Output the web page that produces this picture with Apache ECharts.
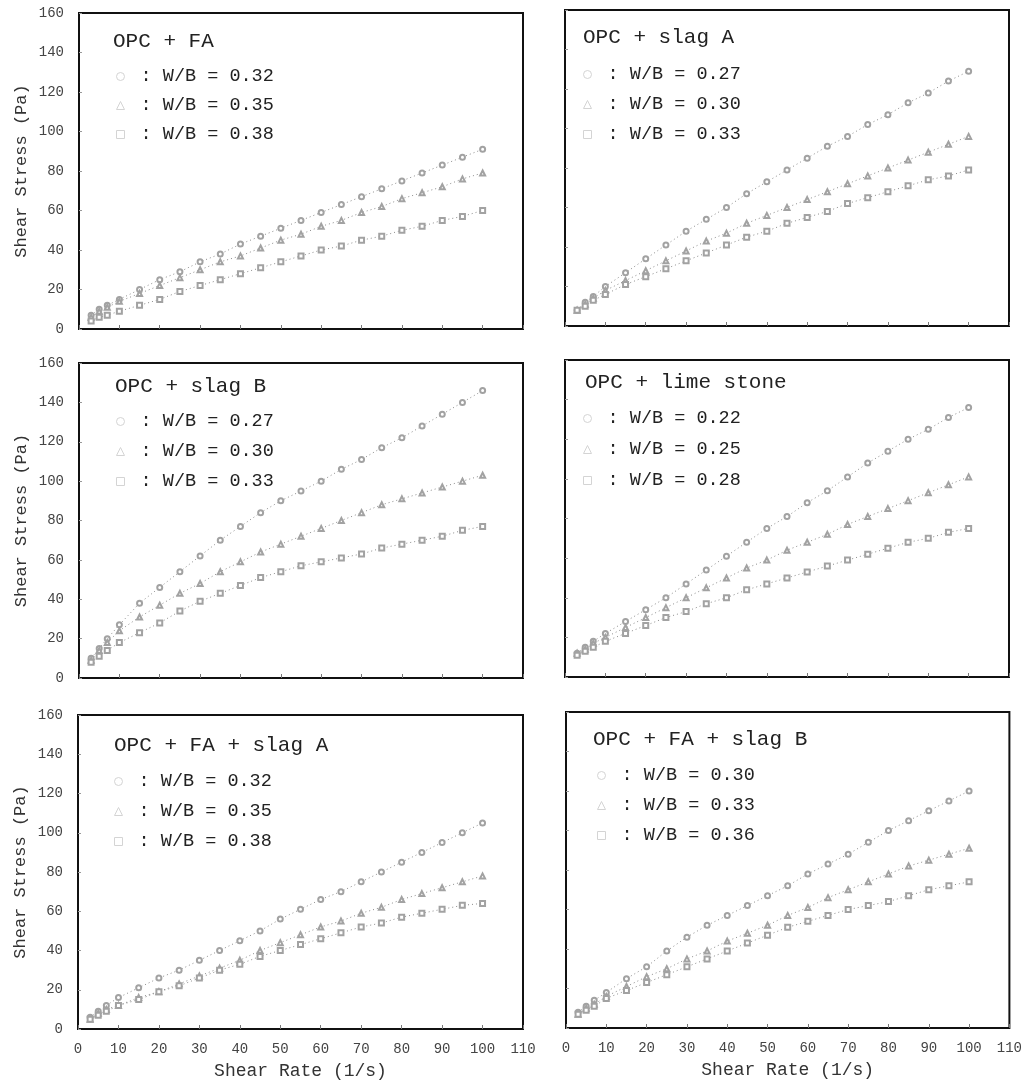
<!DOCTYPE html>
<html>
<head>
<meta charset="utf-8">
<script src="https://cdn.jsdelivr.net/npm/echarts@6/dist/echarts.min.js"></script>
<style>
html,body{margin:0;padding:0;background:#fff;}
#chart{width:1025px;height:1082px;}
</style>
</head>
<body>
<div id="chart"></div>
<script>
// ---- data ----
const shearRate = [3,5,7,10,15,20,25,30,35,40,45,50,55,60,65,70,75,80,85,90,95,100];

const panelTitles = ['OPC + FA','OPC + slag A','OPC + slag B','OPC + lime stone','OPC + FA + slag A','OPC + FA + slag B'];

const wbFA   = ['0.32','0.35','0.38'];
const fa_032 = [7,10,12,15,20,25,29,34,38,43,47,51,55,59,63,67,71,75,79,83,87,91];
const fa_035 = [6,9,11,14,18,22,26,30,34,37,41,45,48,52,55,59,62,66,69,72,76,79];
const fa_038 = [4,6,7,9,12,15,19,22,25,28,31,34,37,40,42,45,47,50,52,55,57,60];

const wbSA   = ['0.27','0.30','0.33'];
const sa_027 = [8,12,15,20,27,34,41,48,54,60,67,73,79,85,91,96,102,107,113,118,124,129];
const sa_030 = [8,11,14,18,23,28,33,38,43,47,52,56,60,64,68,72,76,80,84,88,92,96];
const sa_033 = [8,10,13,16,21,25,29,33,37,41,45,48,52,55,58,62,65,68,71,74,76,79];

const wbSB   = ['0.27','0.30','0.33'];
const sb_027 = [10,15,20,27,38,46,54,62,70,77,84,90,95,100,106,111,117,122,128,134,140,146];
const sb_030 = [9,14,18,24,31,37,43,48,54,59,64,68,72,76,80,84,88,91,94,97,100,103];
const sb_033 = [8,11,14,18,23,28,34,39,43,47,51,54,57,59,61,63,66,68,70,72,75,77];

const wbLS   = ['0.22','0.25','0.28'];
const ls_022 = [12,15,18,22,28,34,40,47,54,61,68,75,81,88,94,101,108,114,120,125,131,136];
const ls_025 = [12,14,17,20,25,30,35,40,45,50,55,59,64,68,72,77,81,85,89,93,97,101];
const ls_028 = [11,13,15,18,22,26,30,33,37,40,44,47,50,53,56,59,62,65,68,70,73,75];

const wbFSA   = ['0.32','0.35','0.38'];
const fsa_032 = [6,9,12,16,21,26,30,35,40,45,50,56,61,66,70,75,80,85,90,95,100,105];
const fsa_035 = [5,8,10,12,16,19,23,27,31,35,40,44,48,52,55,59,62,66,69,72,75,78];
const fsa_038 = [5,7,9,12,15,19,22,26,30,33,37,40,43,46,49,52,54,57,59,61,63,64];

const wbFSB   = ['0.30','0.33','0.36'];
const fsb_030 = [8,11,14,18,25,31,39,46,52,57,62,67,72,78,83,88,94,100,105,110,115,120];
const fsb_033 = [7,10,12,16,21,26,30,35,39,44,48,52,57,61,66,70,74,78,82,85,88,91];
const fsb_036 = [7,9,11,15,19,23,27,31,35,39,43,47,51,54,57,60,62,64,67,70,72,74];

const xTicksMin = 0, xTicksMax = 110, xTickStep = 10;
const yTicksMin = 0, yTicksMax = 160, yTickStep = 20;
const xAxisTitle = 'Shear Rate (1/s)';
const yAxisTitle = 'Shear Stress (Pa)';

// ---- layout ----
const panelData = [
  {wb: wbFA,  vals: [fa_032, fa_035, fa_038]},
  {wb: wbSA,  vals: [sa_027, sa_030, sa_033]},
  {wb: wbSB,  vals: [sb_027, sb_030, sb_033]},
  {wb: wbLS,  vals: [ls_022, ls_025, ls_028]},
  {wb: wbFSA, vals: [fsa_032, fsa_035, fsa_038]},
  {wb: wbFSB, vals: [fsb_030, fsb_033, fsb_036]}
];
const layout = [
  {grid:{left:79, top:13,  width:444, height:316}, title:{left:113, top:31},  legend:{left:116, top:67,  gap:10}},
  {grid:{left:565,top:10,  width:444, height:316}, title:{left:583, top:27},  legend:{left:583, top:65,  gap:11}},
  {grid:{left:79, top:363, width:444, height:315}, title:{left:115, top:376}, legend:{left:116, top:412, gap:11}},
  {grid:{left:565,top:360, width:444, height:317}, title:{left:585, top:372}, legend:{left:583, top:409, gap:12}},
  {grid:{left:78, top:715, width:445, height:314}, title:{left:114, top:735}, legend:{left:114, top:772, gap:11}},
  {grid:{left:566,top:712, width:444, height:316}, title:{left:593, top:729}, legend:{left:597, top:766, gap:11}}
];
const symbols = ['emptyCircle','emptyTriangle','emptyRect'];
const legendIcons = ['circle','triangle','rect'];
const FONT = '"Liberation Mono", "DejaVu Sans Mono", monospace';

const grids = [], xAxes = [], yAxes = [], titles = [], legends = [], series = [];
layout.forEach((L, i) => {
  const isLeft = (i % 2 === 0);
  const isBottom = (i >= 4);
  grids.push(Object.assign({show:true, borderColor:'#111', borderWidth:2, backgroundColor:'transparent'}, L.grid));
  xAxes.push({
    type:'value', gridIndex:i, min:xTicksMin, max:xTicksMax, interval:xTickStep,
    axisLine:{show:false}, splitLine:{show:false},
    axisTick:{show:true, inside:true, length:4, lineStyle:{color:'#777', width:1}},
    axisLabel:{show:isBottom, margin:13, color:'#444', fontFamily:FONT, fontSize:14},
    name: isBottom ? xAxisTitle : '', nameLocation:'middle', nameGap:33,
    nameTextStyle:{color:'#333', fontFamily:FONT, fontSize:18}
  });
  yAxes.push({
    type:'value', gridIndex:i, min:yTicksMin, max:yTicksMax, interval:yTickStep,
    axisLine:{show:false}, splitLine:{show:false},
    axisTick:{show:true, inside:true, length:3, lineStyle:{color:'#999', width:1}},
    axisLabel:{show:isLeft, margin:15, color:'#444', fontFamily:FONT, fontSize:14},
    name: isLeft ? yAxisTitle : '', nameLocation:'middle', nameGap:49,
    nameTextStyle:{color:'#333', fontFamily:FONT, fontSize:17}
  });
  titles.push({
    text: panelTitles[i], left:L.title.left, top:L.title.top, padding:0,
    textStyle:{fontFamily:FONT, fontSize:21, fontWeight:'normal', color:'#222'}
  });
  const names = [];
  panelData[i].vals.forEach((arr, k) => {
    const nm = 'p' + i + '|' + panelData[i].wb[k];
    names.push({name:nm, icon:legendIcons[k]});
    series.push({
      name:nm, type:'line', xAxisIndex:i, yAxisIndex:i,
      data: shearRate.map((x, j) => [x, arr[j]]),
      symbol: symbols[k], symbolSize:5, showSymbol:true,
      lineStyle:{type:[1,3], width:1, color:'#8c8c8c'},
      itemStyle:{color:'#a2a2a2', borderWidth:0.9},
      emphasis:{disabled:true}, silent:true
    });
  });
  legends.push({
    data:names, orient:'vertical', left:L.legend.left, top:L.legend.top,
    itemGap:L.legend.gap, itemWidth:8, itemHeight:8, padding:0,
    selectedMode:false,
    itemStyle:{color:'#fff', borderColor:'#d4d4d4', borderWidth:1},
    textStyle:{fontFamily:FONT, fontSize:18.5, color:'#222', lineHeight:19},
    formatter: n => ' : W/B = ' + n.split('|')[1]
  });
});

const chart = echarts.init(document.getElementById('chart'), null, {renderer:'canvas'});
chart.setOption({
  animation:false,
  backgroundColor:'#fff',
  title:titles, legend:legends, grid:grids, xAxis:xAxes, yAxis:yAxes, series:series
});
</script>
</body>
</html>
